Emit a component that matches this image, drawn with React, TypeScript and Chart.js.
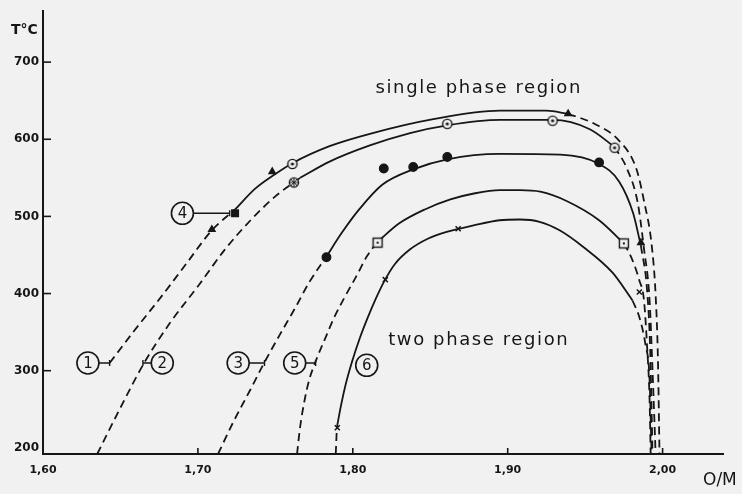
import React, { useEffect, useRef } from "react";
import { Chart, registerables } from "chart.js";

Chart.register(...registerables);

// O/M ratio (x) vs temperature in °C (y). Each boundary is split into the
// extrapolated (dashed) low-temperature branches and the measured (solid) part.
const curve1Left: [number, number][] = [
  [1.643, 310], [1.659, 352], [1.676, 395], [1.693, 440], [1.709, 482], [1.724, 509],
];
const curve1Mid: [number, number][] = [
  [1.724, 509], [1.737, 536], [1.750, 555], [1.761, 569], [1.785, 591], [1.811, 607], [1.852, 626], [1.895, 637], [1.925, 637], [1.939, 633],
];
const curve1Right: [number, number][] = [
  [1.939, 633], [1.956, 620], [1.972, 598], [1.983, 562], [1.988, 520], [1.993, 462], [1.9955, 398], [1.997, 314], [1.998, 192],
];

const curve2Left: [number, number][] = [
  [1.635, 192], [1.650, 252], [1.665, 309], [1.682, 362], [1.701, 412], [1.717, 456], [1.734, 495], [1.750, 526], [1.766, 550],
];
const curve2Mid: [number, number][] = [
  [1.766, 550], [1.785, 571], [1.811, 592], [1.837, 608], [1.861, 618], [1.895, 625], [1.929, 625], [1.953, 613], [1.969, 590],
];
const curve2Right: [number, number][] = [
  [1.969, 590], [1.977, 562], [1.984, 517], [1.988, 458], [1.9916, 391], [1.9935, 301], [1.9955, 192],
];

const curve3Left: [number, number][] = [
  [1.713, 192], [1.723, 234], [1.7335, 274], [1.743, 311], [1.753, 347], [1.763, 382], [1.772, 415], [1.783, 448],
];
const curve3Mid: [number, number][] = [
  [1.783, 448], [1.793, 479], [1.8045, 510], [1.819, 541], [1.839, 561], [1.861, 574], [1.895, 581], [1.934, 580], [1.959, 568], [1.972, 545], [1.981, 504], [1.986, 462],
];
const curve3Right: [number, number][] = [
  [1.986, 462], [1.990, 404], [1.992, 327], [1.9935, 192],
];

const curve5Left: [number, number][] = [
  [1.764, 192], [1.766, 227], [1.769, 263], [1.772, 289], [1.776, 312], [1.782, 341], [1.788, 369], [1.7955, 398], [1.803, 425], [1.809, 448], [1.816, 467],
];
const curve5Mid: [number, number][] = [
  [1.816, 467], [1.830, 491], [1.8465, 509], [1.863, 522], [1.879, 530], [1.895, 534], [1.908, 534], [1.921, 532], [1.938, 520], [1.959, 495], [1.975, 465],
];
const curve5Right: [number, number][] = [
  [1.975, 465], [1.980, 446], [1.985, 417], [1.988, 391], [1.990, 331], [1.9916, 262], [1.9923, 192],
];

const curve6Left: [number, number][] = [
  [1.789, 192], [1.7897, 226],
];
const curve6Mid: [number, number][] = [
  [1.7897, 226], [1.7923, 254], [1.7955, 283], [1.7994, 311], [1.8045, 342], [1.8097, 369], [1.8148, 393], [1.8206, 417], [1.8271, 438],
  [1.8368, 457], [1.8484, 471], [1.8606, 480], [1.8774, 488], [1.8948, 495], [1.9077, 496], [1.9206, 493], [1.9335, 482], [1.9484, 461],
  [1.9677, 427], [1.9806, 391],
];
const curve6Right: [number, number][] = [
  [1.9806, 391], [1.9852, 368], [1.989, 333], [1.9916, 288], [1.9929, 192],
];

// Measured points
const trianglePoints: [number, number][] = [[1.709, 483], [1.748, 558], [1.939, 633], [1.986, 466]];
const filledSquarePoints: [number, number][] = [[1.724, 504]];
const dotCirclePoints: [number, number][] = [[1.761, 568], [1.861, 620], [1.929, 624], [1.969, 589]];
const crossCirclePoints: [number, number][] = [[1.762, 544]];
const filledDotPoints: [number, number][] = [[1.783, 447], [1.820, 562], [1.839, 564], [1.861, 577], [1.959, 570]];
const dotSquarePoints: [number, number][] = [[1.816, 466], [1.975, 465]];
const crossPoints: [number, number][] = [[1.790, 226], [1.821, 418], [1.868, 484], [1.985, 402]];

// Axis ticks
const xTicks = [1.6, 1.7, 1.8, 1.9, 2.0];
const yTicks = [200, 300, 400, 500, 600, 700];

// Numbered curve labels: label text, circle centre, leader end (x) on the curve
const curveLabels = [
  { text: "1", x: 1.629, y: 310, leaderTo: 1.643 },
  { text: "2", x: 1.677, y: 310, leaderTo: 1.6645 },
  { text: "3", x: 1.726, y: 310, leaderTo: 1.743 },
  { text: "4", x: 1.690, y: 504, leaderTo: 1.7205 },
  { text: "5", x: 1.7625, y: 310, leaderTo: 1.776 },
  { text: "6", x: 1.809, y: 307, leaderTo: null as number | null },
];

const regionLabels = [
  { text: "single phase region", x: 1.8813, y: 666 },
  { text: "two phase region", x: 1.8813, y: 340 },
];

const INK = "#161616";
const PAPER = "#f1f1f1";
const FONT = '"DejaVu Sans", sans-serif';

const toXY = (arr: [number, number][]) => arr.map(([x, y]) => ({ x, y }));

function makeMarker(kind: "dotCircle" | "crossCircle" | "dotSquare"): HTMLCanvasElement {
  const c = document.createElement("canvas");
  c.width = 14;
  c.height = 14;
  const g = c.getContext("2d")!;
  g.strokeStyle = INK;
  g.fillStyle = PAPER;
  g.lineWidth = 1.4;
  if (kind === "dotSquare") {
    g.fillRect(2, 2, 10, 10);
    g.strokeRect(2.5, 2.5, 9, 9);
    g.fillStyle = INK;
    g.fillRect(6, 6, 2, 2);
  } else {
    g.beginPath();
    g.arc(7, 7, 4.6, 0, Math.PI * 2);
    g.fill();
    g.stroke();
    g.fillStyle = INK;
    if (kind === "dotCircle") {
      g.beginPath();
      g.arc(7, 7, 1.6, 0, Math.PI * 2);
      g.fill();
    } else {
      g.lineWidth = 1;
      g.beginPath();
      g.moveTo(4, 4); g.lineTo(10, 10);
      g.moveTo(10, 4); g.lineTo(4, 10);
      g.moveTo(7, 2.5); g.lineTo(7, 11.5);
      g.moveTo(2.5, 7); g.lineTo(11.5, 7);
      g.stroke();
    }
  }
  return c;
}

const decorations = {
  id: "decorations",
  afterDraw(chart: any) {
    const { ctx, scales } = chart;
    const xs = scales.x;
    const ys = scales.y;
    const left = chart.chartArea.left;
    const bottom = chart.chartArea.bottom;
    ctx.save();
    ctx.strokeStyle = INK;
    ctx.fillStyle = INK;

    // inward tick marks
    ctx.lineWidth = 1.6;
    yTicks.slice(1).forEach((v) => {
      const py = ys.getPixelForValue(v);
      ctx.beginPath();
      ctx.moveTo(left, py);
      ctx.lineTo(left + 8, py);
      ctx.stroke();
    });
    xTicks.slice(1).forEach((v) => {
      const px = xs.getPixelForValue(v);
      ctx.beginPath();
      ctx.moveTo(px, bottom);
      ctx.lineTo(px, bottom - 6);
      ctx.stroke();
    });

    // axis titles
    ctx.font = `bold 14px ${FONT}`;
    ctx.textAlign = "left";
    ctx.textBaseline = "middle";
    ctx.fillText("T°C", 11, 30);
    ctx.font = `17px ${FONT}`;
    ctx.fillText("O/M", 703, 481);

    // region names
    ctx.font = `18px ${FONT}`;
    ctx.textAlign = "center";
    (ctx as any).letterSpacing = "1.6px";
    regionLabels.forEach((r) => {
      ctx.fillText(r.text, xs.getPixelForValue(r.x), ys.getPixelForValue(r.y));
    });
    (ctx as any).letterSpacing = "0px";

    // numbered circle labels with leaders
    curveLabels.forEach((l) => {
      const cx = xs.getPixelForValue(l.x);
      const cy = ys.getPixelForValue(l.y);
      const r = 11;
      ctx.lineWidth = 1.6;
      ctx.fillStyle = PAPER;
      ctx.beginPath();
      ctx.arc(cx, cy, r, 0, Math.PI * 2);
      ctx.fill();
      ctx.stroke();
      ctx.fillStyle = INK;
      ctx.font = `15px ${FONT}`;
      ctx.textAlign = "center";
      ctx.textBaseline = "middle";
      ctx.fillText(l.text, cx, cy + 1);
      if (l.leaderTo !== null) {
        const ex = xs.getPixelForValue(l.leaderTo);
        const sx = ex > cx ? cx + r : cx - r;
        ctx.lineWidth = 1.4;
        ctx.beginPath();
        ctx.moveTo(sx, cy);
        ctx.lineTo(ex, cy);
        ctx.moveTo(ex, cy - 3);
        ctx.lineTo(ex, cy + 3);
        ctx.stroke();
      }
    });
    ctx.restore();
  },
};

export default function App() {
  const ref = useRef<HTMLCanvasElement | null>(null);

  useEffect(() => {
    document.body.style.margin = "0";
    document.body.style.background = PAPER;
    const canvas = ref.current;
    if (!canvas) return;

    const line = (data: [number, number][], dashed: boolean) => ({
      data: toXY(data),
      showLine: true,
      borderColor: INK,
      borderWidth: 1.8,
      borderDash: dashed ? [8, 5] : [],
      pointRadius: 0,
      pointHoverRadius: 0,
      cubicInterpolationMode: "monotone",
      fill: false,
      order: 2,
    });

    const points = (data: [number, number][], style: any, radius: number, filled = true) => ({
      data: toXY(data),
      showLine: false,
      pointStyle: style,
      pointRadius: radius,
      pointHoverRadius: radius,
      pointBackgroundColor: filled ? INK : PAPER,
      pointBorderColor: INK,
      pointBorderWidth: 1.5,
      order: 1,
    });

    const chart = new Chart(canvas, {
      type: "scatter",
      data: {
        datasets: [
          line(curve1Left, true), line(curve1Mid, false), line(curve1Right, true),
          line(curve2Left, true), line(curve2Mid, false), line(curve2Right, true),
          line(curve3Left, true), line(curve3Mid, false), line(curve3Right, true),
          line(curve5Left, true), line(curve5Mid, false), line(curve5Right, true),
          line(curve6Left, true), line(curve6Mid, false), line(curve6Right, true),
          points(trianglePoints, "triangle", 3.6),
          points(filledSquarePoints, "rect", 4.6),
          points(dotCirclePoints, makeMarker("dotCircle"), 5),
          points(crossCirclePoints, makeMarker("crossCircle"), 5),
          points(filledDotPoints, "circle", 4.2),
          points(dotSquarePoints, makeMarker("dotSquare"), 5),
          points(crossPoints, "crossRot", 3.6, false),
        ] as any,
      },
      options: {
        responsive: false,
        animation: false,
        events: [],
        layout: { padding: { top: 10, right: 19, left: 0, bottom: 0 } },
        plugins: { legend: { display: false }, tooltip: { enabled: false } },
        scales: {
          x: {
            type: "linear",
            min: 1.6,
            max: 2.039,
            grid: { display: false, drawTicks: false },
            border: { display: true, color: INK, width: 2 },
            ticks: {
              color: INK,
              padding: 10,
              font: { family: FONT, size: 11, weight: "bold" },
              callback: (v: any) => Number(v).toFixed(2).replace(".", ","),
            },
            afterBuildTicks: (s: any) => {
              s.ticks = xTicks.map((v) => ({ value: v }));
            },
            afterFit: (s: any) => {
              s.height = 40;
            },
          },
          y: {
            type: "linear",
            min: 192,
            max: 766,
            grid: { display: false, drawTicks: false },
            border: { display: true, color: INK, width: 2 },
            ticks: {
              color: INK,
              padding: 4,
              font: { family: FONT, size: 12, weight: "bold" },
              callback: (v: any) => String(v),
            },
            afterBuildTicks: (s: any) => {
              s.ticks = yTicks.map((v) => ({ value: v }));
            },
            afterFit: (s: any) => {
              s.width = 43;
            },
          },
        },
      } as any,
      plugins: [decorations],
    });

    return () => chart.destroy();
  }, []);

  return (
    <canvas
      ref={ref}
      width={742}
      height={494}
      style={{ display: "block", width: 742, height: 494, background: PAPER }}
    />
  );
}
